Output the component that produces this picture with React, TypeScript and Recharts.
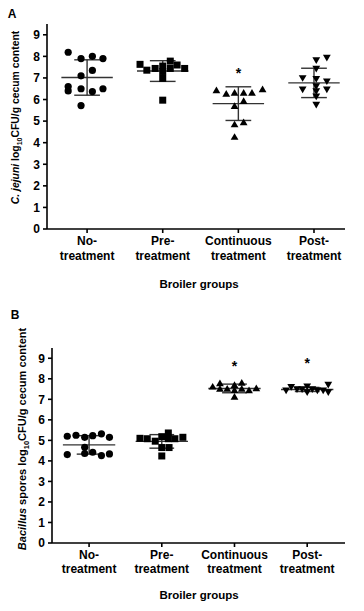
import React from 'react';
import { ScatterChart, Scatter, XAxis, YAxis, ReferenceLine } from 'recharts';

// category labels (GraphPad-style two-line labels)
const categoryLines = [
  ['No-', 'treatment'],
  ['Pre-', 'treatment'],
  ['Continuous', 'treatment'],
  ['Post-', 'treatment'],
];
const yTicks = [0, 1, 2, 3, 4, 5, 6, 7, 8, 9];

// Panel A: C. jejuni, values + horizontal jitter (in category units)
const aNoValues = [8.19, 7.9, 8.0, 7.9, 7.35, 7.1, 6.6, 6.4, 6.5, 6.37, 6.5, 5.72];
const aNoJitter = [-0.25, -0.08, 0.07, 0.21, 0.07, -0.08, -0.25, -0.25, -0.08, 0.07, 0.21, -0.08];
const aPreValues = [7.63, 7.36, 7.44, 7.55, 7.3, 7.78, 7.44, 7.6, 7.44, 6.98, 5.97];
const aPreJitter = [-0.3, -0.21, -0.1, 0, 0, 0.1, 0.1, 0.19, 0.29, 0, 0];
const aContValues = [6.42, 6.26, 6.31, 6.31, 6.31, 6.47, 5.92, 5.69, 4.84, 4.94, 4.26];
const aContJitter = [-0.29, -0.16, -0.05, 0.07, 0.18, 0.32, 0.07, -0.05, -0.05, 0.07, -0.05];
const aPostValues = [7.83, 7.94, 7.43, 7.0, 6.96, 6.85, 6.47, 6.62, 6.39, 6.47, 6.15, 5.77];
const aPostJitter = [0.03, 0.17, 0.03, -0.15, 0.03, 0.17, -0.15, 0.03, 0.03, 0.17, 0.03, 0.03];
const aMeans = [7.02, 7.32, 5.81, 6.77];
const aSD = [0.82, 0.48, 0.78, 0.68];
const aStars = [{ x: 3, y: 7.36 }];

// Panel B: Bacillus spores
const bNoValues = [5.2, 5.25, 5.15, 5.23, 5.32, 5.15, 4.66, 4.31, 4.36, 4.42, 4.26, 4.34];
const bNoJitter = [-0.3, -0.18, -0.06, 0.05, 0.17, 0.28, -0.06, -0.3, -0.06, 0.05, 0.17, 0.28];
const bPreValues = [5.1, 5.08, 4.96, 5.18, 5.36, 5.08, 5.08, 5.15, 4.65, 4.65, 4.24];
const bPreJitter = [-0.3, -0.2, -0.09, 0, 0.09, 0.09, 0.18, 0.29, 0, 0.1, 0];
const bContValues = [7.61, 7.77, 7.51, 7.51, 7.69, 7.44, 7.12, 7.8, 7.51, 7.43, 7.53];
const bContJitter = [-0.3, -0.2, -0.2, -0.1, 0, 0, 0, 0.1, 0.1, 0.2, 0.3];
const bPostValues = [7.44, 7.61, 7.5, 7.5, 7.64, 7.35, 7.5, 7.44, 7.44, 7.72, 7.35];
const bPostJitter = [-0.29, -0.22, -0.14, -0.07, 0, 0, 0.07, 0.14, 0.22, 0.29, 0.29];
const bMeans = [4.78, 4.95, 7.53, 7.48];
const bSD = [0.45, 0.33, 0.21, 0.1];
const bStars = [{ x: 3, y: 8.78 }, { x: 4, y: 8.9 }];

const FONT = '"Liberation Sans", Arial, sans-serif';
const LINE = '#333';

const toPoints = (group: number, jitter: number[], values: number[]) =>
  values.map((v, i) => ({ x: group + jitter[i], y: v }));

const Dot = (p: any) => <circle cx={p.cx} cy={p.cy} r={3.6} fill="#000" />;
const Square = (p: any) => <rect x={p.cx - 3.5} y={p.cy - 3.5} width={7} height={7} fill="#000" />;
const TriUp = (p: any) => (
  <polygon
    points={`${p.cx},${p.cy - 3.9} ${p.cx + 3.9},${p.cy + 2.8} ${p.cx - 3.9},${p.cy + 2.8}`}
    fill="#000"
  />
);
const TriDown = (p: any) => (
  <polygon
    points={`${p.cx - 3.9},${p.cy - 2.8} ${p.cx + 3.9},${p.cy - 2.8} ${p.cx},${p.cy + 3.9}`}
    fill="#000"
  />
);
const Star = (p: any) => (
  <text x={p.cx} y={p.cy + 8} textAnchor="middle" fontFamily={FONT} fontWeight="bold" fontSize={14} fill="#000">
    *
  </text>
);

const CategoryTick = ({ x, y, payload, firstDy, lineGap }: any) => {
  const lines = categoryLines[Math.round(payload.value) - 1] || [];
  return (
    <text x={x} y={y} textAnchor="middle" fontFamily={FONT} fontWeight="bold" fontSize={12} fill="#000">
      <tspan x={x} dy={firstDy}>{lines[0]}</tspan>
      <tspan x={x} dy={lineGap}>{lines[1]}</tspan>
    </text>
  );
};

// mean line plus SD whiskers, drawn through the chart's scales
function meanSdLines(means: number[], sds: number[], halfMean: number, halfCap: number) {
  const out: React.ReactNode[] = [];
  means.forEach((m, i) => {
    const g = i + 1;
    const hi = m + sds[i];
    const lo = m - sds[i];
    const segs = [
      [{ x: g - halfMean, y: m }, { x: g + halfMean, y: m }],
      [{ x: g, y: lo }, { x: g, y: hi }],
      [{ x: g - halfCap, y: hi }, { x: g + halfCap, y: hi }],
      [{ x: g - halfCap, y: lo }, { x: g + halfCap, y: lo }],
    ];
    segs.forEach((s, j) => {
      out.push(
        <ReferenceLine key={`ms-${i}-${j}`} segment={s as any} stroke={LINE} strokeWidth={1.4} ifOverflow="visible" />
      );
    });
  });
  return out;
}

interface PanelProps {
  height: number;
  top: number;
  yAxisWidth: number;
  xAxisHeight: number;
  xDomain: [number, number];
  groups: { x: number; y: number }[][];
  means: number[];
  sds: number[];
  stars: { x: number; y: number }[];
  firstDy: number;
  lineGap: number;
  halfMean: number;
}

function Panel(p: PanelProps) {
  const shapes = [Dot, Square, TriUp, TriDown];
  const tickStyle = { fontFamily: FONT, fontWeight: 'bold', fontSize: 12, fill: '#000' };
  return (
    <ScatterChart width={364} height={p.height} margin={{ top: p.top, right: 19, bottom: 0, left: 0 }}>
      <XAxis
        type="number"
        dataKey="x"
        domain={p.xDomain}
        allowDataOverflow
        ticks={[1, 2, 3, 4]}
        tickSize={4}
        tickMargin={2}
        height={p.xAxisHeight}
        stroke="#000"
        strokeWidth={1.6}
        interval={0}
        tick={(tp: any) => <CategoryTick {...tp} firstDy={p.firstDy} lineGap={p.lineGap} />}
      />
      <YAxis
        type="number"
        dataKey="y"
        domain={[0, 9.5]}
        allowDataOverflow
        ticks={yTicks}
        interval={0}
        tickSize={4}
        tickMargin={3}
        width={p.yAxisWidth}
        stroke="#000"
        strokeWidth={1.6}
        tick={tickStyle}
      />
      {meanSdLines(p.means, p.sds, p.halfMean, 0.17)}
      {p.groups.map((pts, i) => (
        <Scatter key={i} data={pts} shape={shapes[i]} isAnimationActive={false} />
      ))}
      <Scatter data={p.stars} shape={Star} isAnimationActive={false} />
    </ScatterChart>
  );
}

export default function App() {
  const groupsA = [
    toPoints(1, aNoJitter, aNoValues),
    toPoints(2, aPreJitter, aPreValues),
    toPoints(3, aContJitter, aContValues),
    toPoints(4, aPostJitter, aPostValues),
  ];
  const groupsB = [
    toPoints(1, bNoJitter, bNoValues),
    toPoints(2, bPreJitter, bPreValues),
    toPoints(3, bContJitter, bContValues),
    toPoints(4, bPostJitter, bPostValues),
  ];
  const labelStyle = { fontFamily: FONT, fontWeight: 'bold' as const, fill: '#000' };
  return (
    <div style={{ position: 'absolute', top: 0, left: 0, width: 364, height: 611, background: '#fff' }}>
      <div style={{ position: 'absolute', top: 0, left: 0 }}>
        <Panel
          height={300}
          top={24}
          yAxisWidth={47}
          xAxisHeight={71}
          xDomain={[0.47, 4.41]}
          groups={groupsA}
          means={aMeans}
          sds={aSD}
          stars={aStars}
          firstDy={10.3}
          lineGap={15}
          halfMean={0.34}
        />
      </div>
      <div style={{ position: 'absolute', top: 300, left: 0 }}>
        <Panel
          height={311}
          top={48}
          yAxisWidth={52}
          xAxisHeight={68}
          xDomain={[0.49, 4.52]}
          groups={groupsB}
          means={bMeans}
          sds={bSD}
          stars={bStars}
          firstDy={10.3}
          lineGap={13.3}
          halfMean={0.36}
        />
      </div>
      <svg width={364} height={611} style={{ position: 'absolute', top: 0, left: 0, pointerEvents: 'none' }}>
        <text x={12} y={17.5} textAnchor="middle" fontSize={12} {...labelStyle}>A</text>
        <text x={15} y={318.5} textAnchor="middle" fontSize={12} {...labelStyle}>B</text>
        <text transform="translate(19,117.5) rotate(-90)" textAnchor="middle" fontSize={10.4} {...labelStyle}>
          <tspan fontStyle="italic">C. jejuni</tspan>
          <tspan> log</tspan>
          <tspan fontSize={7} dy={3}>10</tspan>
          <tspan dy={-3}>CFU/g cecum content</tspan>
        </text>
        <text transform="translate(25.5,439) rotate(-90)" textAnchor="middle" fontSize={11} {...labelStyle}>
          <tspan fontStyle="italic">Bacillus</tspan>
          <tspan> spores log</tspan>
          <tspan fontSize={7.5} dy={3}>10</tspan>
          <tspan dy={-3}>CFU/g cecum content</tspan>
        </text>
        <text x={199} y={288} textAnchor="middle" fontSize={11.5} {...labelStyle}>Broiler groups</text>
        <text x={199} y={599} textAnchor="middle" fontSize={11.5} {...labelStyle}>Broiler groups</text>
      </svg>
    </div>
  );
}
